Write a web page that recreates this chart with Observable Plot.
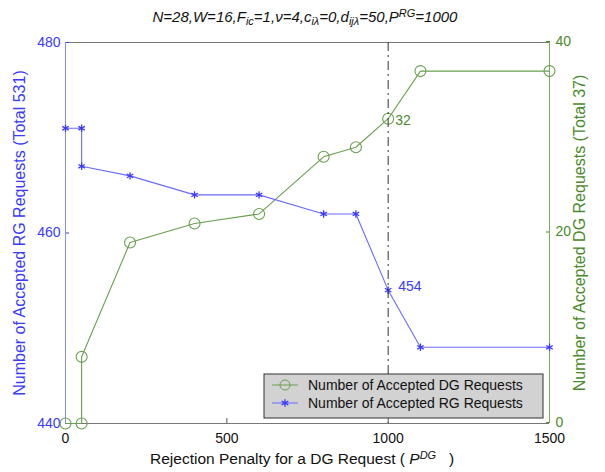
<!DOCTYPE html>
<html><head><meta charset="utf-8">
<script src="https://cdn.jsdelivr.net/npm/d3@7"></script>
<script src="https://cdn.jsdelivr.net/npm/@observablehq/plot@0.6"></script>
<style>body{margin:0;background:#fff;font-family:"Liberation Sans",Arial,sans-serif}</style>
</head><body><div id="chart"></div>
<script>
const penalty    = [0, 50, 50, 200, 400, 600, 800, 900, 1000, 1100, 1500];
const acceptedRG = [471, 471, 467, 466, 464, 464, 462, 462, 454, 448, 448];
const acceptedDG = [0, 0, 7, 19, 21, 22, 28, 29, 32, 37, 37];
const xTicks = [0, 500, 1000, 1500];
const leftTicks = [440, 460, 480];
const rightTicks = [0, 20, 40];
const markedPenalty = 1000;
const markedRG = 454;
const markedDG = 32;
const rgBase = 440; // right axis (0..40) shares the left scale shifted by 440
const legendLabels = ["Number of Accepted DG Requests", "Number of Accepted RG Requests"];

const rows = penalty.map((p, i) => ({p, rg: acceptedRG[i], dg: acceptedDG[i]}));

const blue = "#3a3aff", blueLine = "#6b6bff", blueAxis = "#8c8cff";
const green = "#4a8a2a", greenLine = "#6a9f4f", greenAxis = "#7aaa62";
const font = '"Liberation Sans", Arial, sans-serif';

const plot = Plot.plot({
  width: 605, height: 472,
  marginLeft: 65, marginRight: 56, marginTop: 42, marginBottom: 49,
  style: {fontFamily: font, fontSize: "14px", background: "white", overflow: "visible"},
  x: {domain: [0, 1500]},
  y: {domain: [440, 480]},
  marks: [
    Plot.ruleY([480], {stroke: "#777"}),
    Plot.ruleY([440], {stroke: "#777"}),
    Plot.axisX({ticks: xTicks, tickFormat: d => String(d), tickSize: -5, tickPadding: 15, label: null, stroke: "#555", fill: "#111", fontSize: 14}),
    Plot.axisY({anchor: "left", ticks: leftTicks, tickFormat: d => String(d), tickSize: -4, tickPadding: 9, stroke: blue, fill: blue, fontSize: 14,
      label: "Number of Accepted RG Requests (Total 531)", labelAnchor: "center", labelArrow: "none", labelOffset: 52}),
    Plot.axisY({anchor: "right", ticks: rightTicks.map(t => t + rgBase), tickFormat: d => String(d - rgBase),
      tickSize: -4, tickPadding: 10, dy: -1, stroke: green, fill: green, fontSize: 14,
      label: "Number of Accepted DG Requests (Total 37)", labelAnchor: "center", labelArrow: "none", labelOffset: 41}),
    Plot.ruleX([0], {stroke: blueAxis}),
    Plot.ruleX([1500], {stroke: greenAxis}),
    Plot.line(rows, {x: "p", y: d => d.dg + rgBase, stroke: greenLine, strokeWidth: 1.1}),
    Plot.dot(rows, {x: "p", y: d => d.dg + rgBase, r: 5.5, stroke: greenLine, fill: "none", strokeWidth: 1.1}),
    Plot.line(rows, {x: "p", y: "rg", stroke: blueLine, strokeWidth: 1.1}),
    Plot.dot(rows, {x: "p", y: "rg", symbol: "asterisk", r: 3.5, stroke: blue, strokeWidth: 1.3}),
    Plot.text([markedDG], {x: () => markedPenalty, y: d => d + rgBase, text: d => String(d), dx: 7, dy: 2, textAnchor: "start", fill: green, fontSize: 14}),
    Plot.text([markedRG], {x: () => markedPenalty, y: d => d, text: d => String(d), dx: 10, dy: -4, textAnchor: "start", fill: blue, fontSize: 14}),
    Plot.ruleX([markedPenalty], {stroke: "#333", strokeDasharray: "9,4,2,4", ariaLabel: "marker"})
  ]
});

const svg = d3.select(plot);
// axis titles a bit larger than tick labels
const yLabels = svg.selectAll('g[aria-label="y-axis label"] text').attr("font-size", 16);
yLabels.filter((d, i) => i === 1).each(function() {
  const old = this.getAttribute("transform") || "";
  this.setAttribute("transform", "translate(-6,0) " + old);
});

function piece(sel, txt, kind) {
  const t = sel.append("tspan").text(txt);
  if (kind === "sub") t.attr("font-size", 11).attr("baseline-shift", "-30%");
  if (kind === "sup") t.attr("font-size", 11).attr("baseline-shift", "45%");
  return t;
}

// Title with sub/superscripts
const title = svg.append("text").attr("x", 305).attr("y", 22).attr("text-anchor", "middle")
  .attr("font-style", "italic").attr("font-size", 15).attr("fill", "#111").attr("font-family", font);
piece(title, "N=28,W=16,F");
piece(title, "ic", "sub");
piece(title, "=1,\u03bd=4,c");
piece(title, "i\u03bb", "sub");
piece(title, "=0,d");
piece(title, "ij\u03bb", "sub");
piece(title, "=50,P");
piece(title, "RG", "sup");
piece(title, "=1000");

// X label
const xl = svg.append("text").attr("x", 150).attr("y", 464).attr("text-anchor", "start")
  .attr("font-size", 15.5).attr("fill", "#111").attr("font-family", font);
piece(xl, "Rejection Penalty for a DG Request ( ");
piece(xl, "P").attr("font-style", "italic");
piece(xl, "DG", "sup").attr("font-style", "italic");
piece(xl, "\u00a0\u00a0 )");

// Legend
const lg = svg.append("g");
lg.append("rect").attr("x", 264).attr("y", 374).attr("width", 279).attr("height", 44)
  .attr("fill", "#d2d2d2").attr("stroke", "#333");
const rowsY = [385, 403];
const colors = [greenLine, blueLine];
legendLabels.forEach((lab, i) => {
  lg.append("line").attr("x1", 272).attr("x2", 298).attr("y1", rowsY[i]).attr("y2", rowsY[i]).attr("stroke", colors[i]);
  lg.append("text").attr("x", 308).attr("y", rowsY[i] + 5).attr("font-size", 14).attr("fill", "#111")
    .attr("text-anchor", "start").attr("font-family", font).text(lab);
});
lg.append("circle").attr("cx", 285).attr("cy", rowsY[0]).attr("r", 5).attr("fill", "none").attr("stroke", greenLine);
lg.append("path").attr("transform", `translate(285,${rowsY[1]})`).attr("d", d3.symbol(d3.symbolAsterisk, 40)())
  .attr("stroke", blue).attr("fill", "none").attr("stroke-width", 1.3);

// dashed marker over the legend
const marker = plot.querySelector('g[aria-label="marker"]');
if (marker) plot.appendChild(marker);

document.getElementById("chart").appendChild(plot);
</script></body></html>
